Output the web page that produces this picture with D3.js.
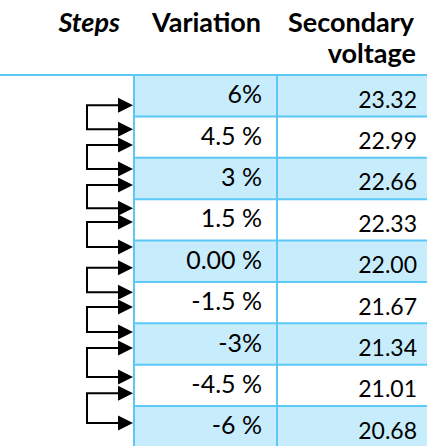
<!DOCTYPE html>
<html>
<head>
<meta charset="utf-8">
<script src="https://cdn.jsdelivr.net/npm/d3@7"></script>
<style>
html,body{margin:0;padding:0;background:#fff;}
svg{display:block;}
text{font-family:Lato,"Open Sans",sans-serif;fill:#000;}
</style>
</head>
<body>
<svg id="chart" width="427" height="446"></svg>
<script>
// ---- data ----
const headers = ["Steps", "Variation", "Secondary", "voltage"];
const variation = ["6%", "4.5 %", "3 %", "1.5 %", "0.00 %", "-1.5 %", "-3%", "-4.5 %", "-6 %"];
const voltage = ["23.32", "22.99", "22.66", "22.33", "22.00", "21.67", "21.34", "21.01", "20.68"];
// step connectors: from (row units, 0 = top of first row) -> to
const stepFrom = [0.73, 1.69, 2.66, 3.55, 4.66, 5.61, 6.60, 7.69];
const stepTo   = [1.31, 2.27, 3.22, 4.16, 5.25, 6.21, 7.30, 8.41];

// ---- drawing ----
(function () {
const W = 427, H = 446;
const svg = d3.select("#chart");
const border = "#5bc8f5", fill = "#c7edfd";
const tableLeft = 134, colDiv = 277, right = W;
const tableTop = 75, rowH = 41.375;

const y = d3.scaleLinear().domain([0, variation.length]).range([tableTop, tableTop + rowH * variation.length]);
const rows = d3.range(variation.length);

// row fills
svg.append("g").selectAll("rect").data(rows.filter(i => i % 2 === 0)).join("rect")
  .attr("x", tableLeft).attr("y", i => y(i)).attr("width", right - tableLeft).attr("height", i => y(i + 1) - y(i))
  .attr("fill", fill);

// horizontal separators
svg.append("g").selectAll("line").data(d3.range(1, variation.length + 1)).join("line")
  .attr("x1", tableLeft).attr("x2", right).attr("y1", i => y(i)).attr("y2", i => y(i))
  .attr("stroke", border).attr("stroke-width", 2);
// header line full width
svg.append("line").attr("x1", 0).attr("x2", W).attr("y1", y(0)).attr("y2", y(0))
  .attr("stroke", border).attr("stroke-width", 2);
// vertical lines
[tableLeft, colDiv].forEach(x => {
  svg.append("line").attr("x1", x).attr("x2", x).attr("y1", y(0)).attr("y2", H)
    .attr("stroke", border).attr("stroke-width", 2);
});

// headers
const hdr = svg.append("g").attr("font-weight", "bold").attr("font-size", 27).attr("text-anchor", "end");
hdr.append("text").attr("x", 120).attr("y", 31.7).attr("font-style", "italic").text(headers[0]);
hdr.append("text").attr("x", 261).attr("y", 31.7).text(headers[1]);
hdr.append("text").attr("x", 414).attr("y", 31.7).text(headers[2]);
hdr.append("text").attr("x", 416).attr("y", 63).text(headers[3]);

// values
svg.append("g").selectAll("text").data(variation).join("text")
  .attr("x", 262).attr("y", (d, i) => y(i) + 28.3).attr("text-anchor", "end").attr("font-size", 25).text(d => d);
svg.append("g").selectAll("text").data(voltage).join("text")
  .attr("x", 417).attr("y", (d, i) => y(i) + 32.7).attr("text-anchor", "end").attr("font-size", 23).text(d => d);

// step connectors
const xLeft = 87, tip = tableLeft - 1, headL = 15, headHalf = 7.5;
const steps = svg.append("g");
stepFrom.forEach((f, k) => {
  const y1 = y(f), y2 = y(stepTo[k]);
  steps.append("path")
    .attr("d", `M${tip - headL},${y1}H${xLeft}V${y2}H${tip - headL}`)
    .attr("fill", "none").attr("stroke", "#000").attr("stroke-width", 2);
  [y1, y2].forEach(yy => {
    steps.append("path")
      .attr("d", `M${tip - headL},${yy - headHalf}L${tip},${yy}L${tip - headL},${yy + headHalf}Z`)
      .attr("fill", "#000");
  });
});
})();
</script>
</body>
</html>
